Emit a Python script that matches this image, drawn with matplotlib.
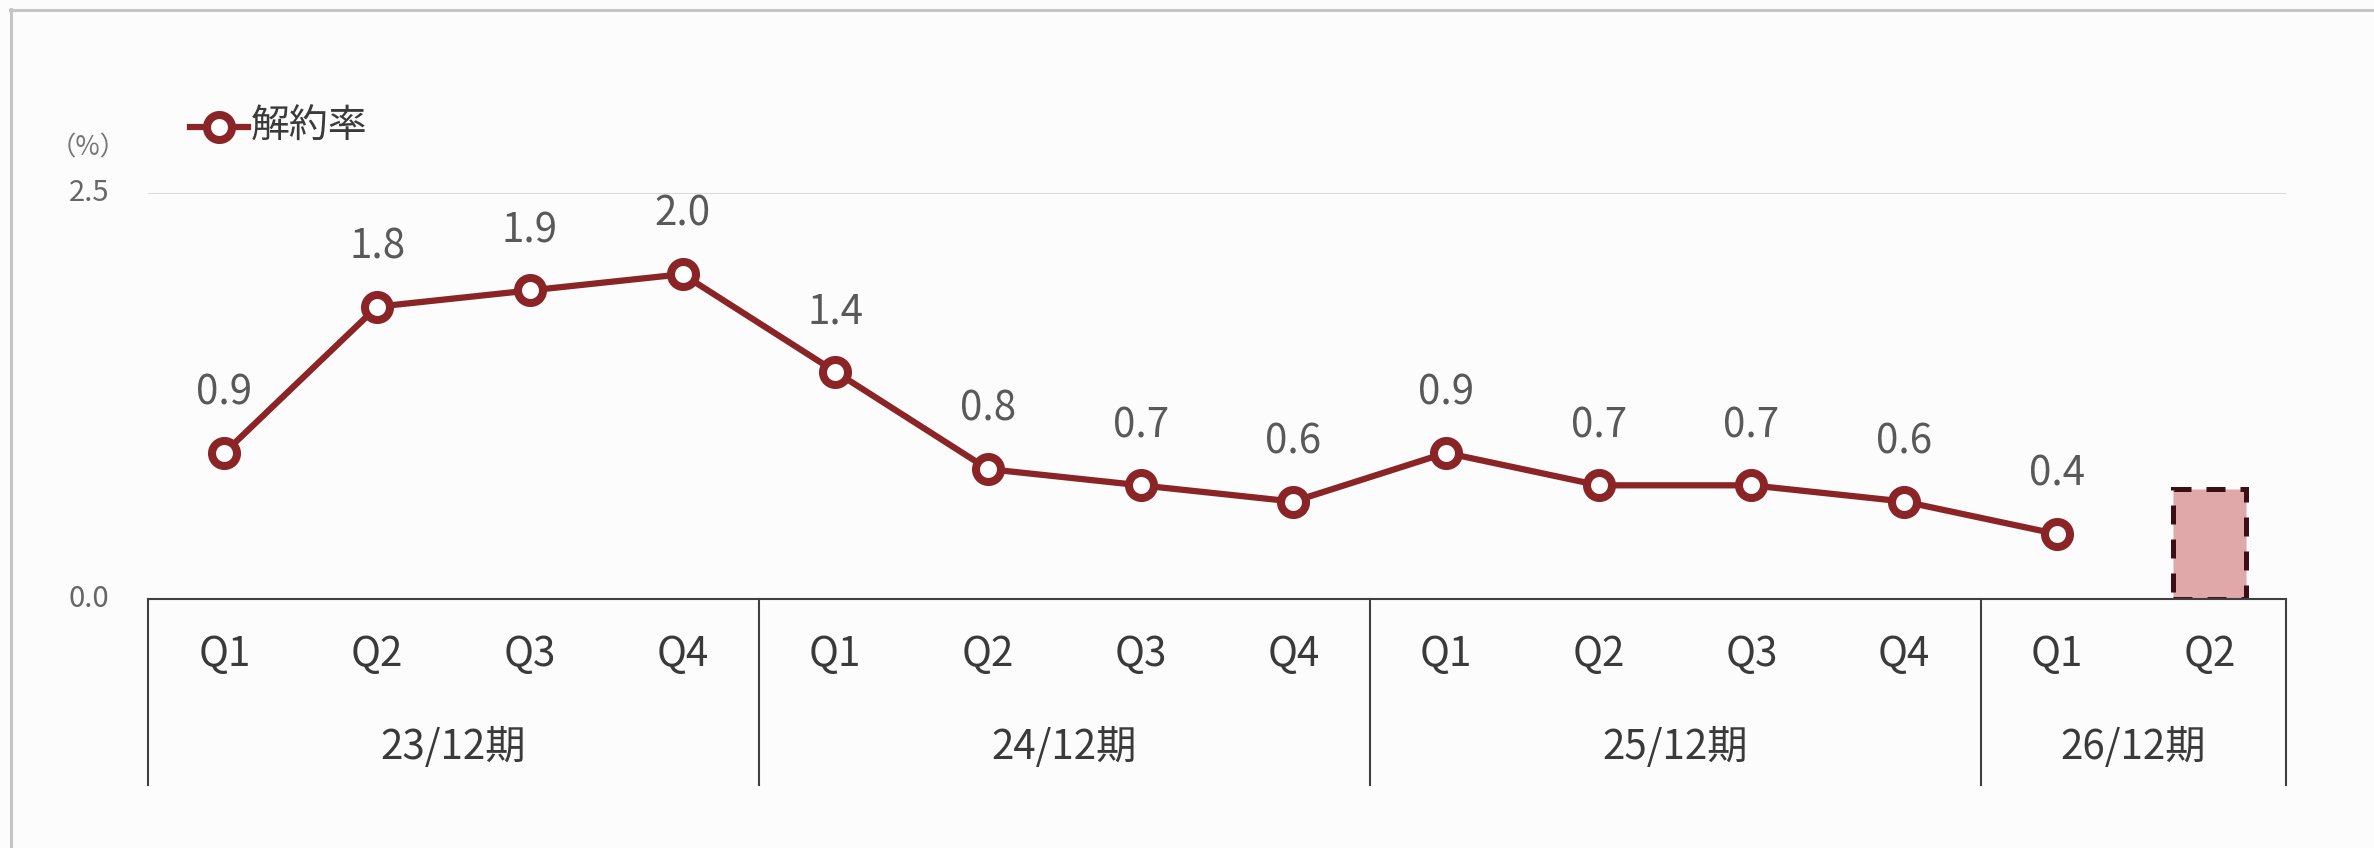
import matplotlib
matplotlib.use("Agg")
import matplotlib.pyplot as plt
from matplotlib.lines import Line2D
from matplotlib.transforms import blended_transform_factory
import numpy as np

plt.rcParams['font.family'] = ['Noto Sans CJK JP', 'DejaVu Sans']

# ---- data ----
quarters = ["Q1", "Q2", "Q3", "Q4", "Q1", "Q2", "Q3", "Q4",
            "Q1", "Q2", "Q3", "Q4", "Q1", "Q2"]
periods = ["23/12期", "24/12期", "25/12期", "26/12期"]
period_sizes = [4, 4, 4, 2]
rate = [0.9, 1.8, 1.9, 2.0, 1.4, 0.8, 0.7, 0.6, 0.9, 0.7, 0.7, 0.6, 0.4]
forecast_index = 13
forecast_value = 0.68
series_name = "解約率"
unit_label = "（%）"
yticks = [0.0, 2.5]

W, H = 2374, 848
DPI = 100
LINE_C = "#8B2426"
LABEL_C = "#595959"
TEXT_C = "#3A3A3A"
BOX_C = "#404040"

fig = plt.figure(figsize=(W / DPI, H / DPI), dpi=DPI)
fig.patch.set_facecolor("#FCFCFC")

def fx(px):
    return px / W

def fy(py):
    return 1 - py / H

ax_l, ax_r, ax_t, ax_b = 148, 2286, 193, 599
ax = fig.add_axes([fx(ax_l), fy(ax_b), fx(ax_r - ax_l), (ax_b - ax_t) / H])
ax.set_facecolor("none")
n = len(quarters)
ax.set_xlim(-0.5, n - 0.5)
ax.set_ylim(0, 2.5)
for s in ax.spines.values():
    s.set_visible(False)
ax.set_xticks([])
ax.set_yticks([])

# gridline at top
ax.axhline(2.5, color="#D9D9D9", lw=1.4, zorder=0)

x = np.arange(len(rate))
# forecast bar
ax.bar(forecast_index, forecast_value, width=0.48, color="#E0A8A8",
       edgecolor="#3C0F12", linewidth=3.6, linestyle=(0, (3.8, 3.0)), zorder=2)

ax.plot(x, rate, color=LINE_C, lw=4.5, marker="o", ms=18,
        mfc="white", mec=LINE_C, mew=5.8, zorder=3, clip_on=False)
for xi, v in zip(x, rate):
    ax.annotate(f"{v:.1f}", (xi, v), xytext=(0, 43), textcoords="offset points",
                ha="center", va="center", fontsize=29, color=LABEL_C)

# y tick labels
for t in yticks:
    py = ax_b - (t / 2.5) * (ax_b - ax_t)
    fig.text(fx(109), fy(py), f"{t:.1f}", ha="right", va="center",
             fontsize=21, color="#666666")
fig.text(fx(88), fy(148), unit_label, ha="center", va="center",
         fontsize=19, color="#777777")

# category box
tr = blended_transform_factory(ax.transData, fig.transFigure)
box_top, box_bot = 599, 785
fig.add_artist(Line2D([-0.5, n - 0.5], [fy(box_top), fy(box_top)],
                      transform=tr, color=BOX_C, lw=1.5))
edges = np.concatenate([[0], np.cumsum(period_sizes)]) - 0.5
for e in edges:
    fig.add_artist(Line2D([e, e], [fy(box_top), fy(box_bot)],
                          transform=tr, color=BOX_C, lw=1.5))
for i, q in enumerate(quarters):
    ax.text(i, fy(655), q, transform=tr, ha="center", va="center",
            fontsize=29, color=TEXT_C)
for j, p in enumerate(periods):
    cx = (edges[j] + edges[j + 1]) / 2
    ax.text(cx, fy(747), p, transform=tr, ha="center", va="center",
            fontsize=29, color=TEXT_C)

# legend
fig.add_artist(Line2D([fx(190), fx(248)], [fy(127), fy(127)], color=LINE_C,
                      lw=4.5, transform=fig.transFigure))
fig.add_artist(Line2D([fx(219)], [fy(127)], color=LINE_C, marker="o", ms=18,
                      mfc="white", mec=LINE_C, mew=5.8, lw=0,
                      transform=fig.transFigure))
fig.text(fx(251), fy(127), series_name, ha="left", va="center",
         fontsize=28, color=TEXT_C)

# figure border
fig.add_artist(Line2D([fx(11), fx(11)], [fy(9), 0], color="#C4C6C4", lw=2.2,
                      transform=fig.transFigure))
fig.add_artist(Line2D([fx(10), 1], [fy(9.5), fy(9.5)], color="#C4C6C4", lw=2.2,
                      transform=fig.transFigure))

fig.savefig("out.png", dpi=DPI, facecolor=fig.get_facecolor())
